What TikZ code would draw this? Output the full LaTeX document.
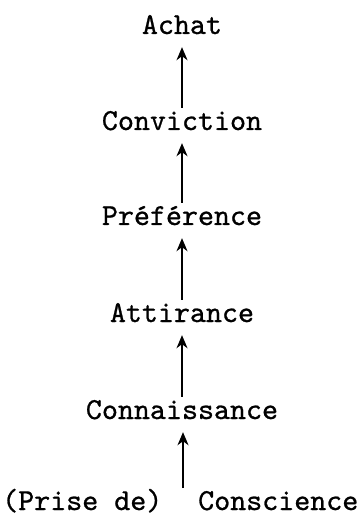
\documentclass[tikz,border=0pt]{standalone}
\usepackage{fontspec}
\newfontfamily\machine{lmmono10-regular.otf}[FakeBold=0.8]
\usepackage{tikz}
\usetikzlibrary{arrows.meta, positioning, calc}

\begin{document}
\begin{tikzpicture}[x=1pt, y=-1pt, font=\machine\fontsize{30.5}{36}\selectfont,
    etape/.style={anchor=base, inner sep=0pt, text height=18.5pt, text depth=0pt},
    fleche/.style={-{Stealth[length=13pt, width=11pt, inset=4pt]}, line width=1.6pt,
        shorten <=3.5pt, shorten >=13pt}]
    \useasboundingbox (0,0) rectangle (362,518);

    % les étapes, de haut en bas
    \node[etape] (achat) at (182,34) {Achat};
    \node[etape] (conv) at (182,130) {Conviction};
    \node[etape] (pref) at (182,225) {Préférence};
    \node[etape] (attir) at (182,322) {Attirance};
    \node[etape] (conn) at (182,419) {Connaissance};

    % dernière ligne : deux morceaux, la flèche part entre eux
    \node[etape, anchor=base west] (prise) at (2,510) {(Prise de)};
    \node[etape, anchor=base west] (consc) at (198,510) {Conscience};
    \coordinate (bas) at (183,491.5);

    % flèches vers le haut
    \draw[fleche] (conv.north) -- (achat.south);
    \draw[fleche] (pref.north) -- (conv.south);
    \draw[fleche] (attir.north) -- (pref.south);
    \draw[fleche] (conn.north) -- (attir.south);
    \draw[fleche] (bas) -- (conn.south -| bas);
\end{tikzpicture}
\end{document}
